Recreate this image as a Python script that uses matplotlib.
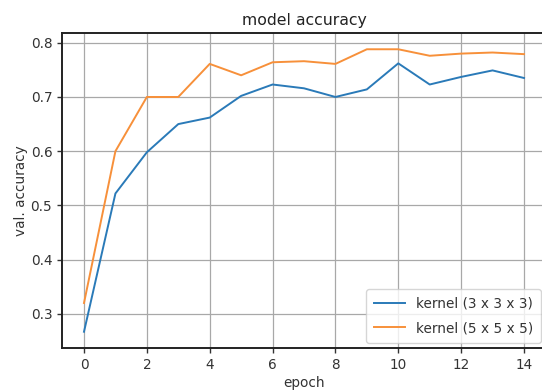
import matplotlib
matplotlib.use("Agg")
import matplotlib.pyplot as plt

epochs = list(range(15))
acc_k3 = [0.267, 0.522, 0.598, 0.650, 0.662, 0.702, 0.723, 0.716, 0.700, 0.714,
          0.762, 0.723, 0.737, 0.749, 0.735]
acc_k5 = [0.320, 0.600, 0.700, 0.700, 0.761, 0.740, 0.764, 0.766, 0.761, 0.788,
          0.788, 0.776, 0.780, 0.782, 0.779]
labels = ["kernel (3 x 3 x 3)", "kernel (5 x 5 x 5)"]
title = "model accuracy"
xlabel = "epoch"
ylabel = "val. accuracy"

fs = 9.8
fig = plt.figure(figsize=(5.42, 3.90), dpi=100)
ax = fig.add_axes([62 / 542, 1 - 348 / 390, (546 - 62) / 542, (348 - 33) / 390])
ax.plot(epochs, acc_k3, color="#2a7ab8", lw=1.4, label=labels[0])
ax.plot(epochs, acc_k5, color="#f7903a", lw=1.4, label=labels[1])
ax.set_xlim(-0.7, 14.7)
ax.set_ylim(0.237, 0.818)
ax.set_xticks(range(0, 15, 2))
ax.set_yticks([0.3, 0.4, 0.5, 0.6, 0.7, 0.8])
ax.grid(True, color="#a8a8a8", lw=0.9)
ax.set_title(title, fontsize=11.3, pad=6, color="#222222")
ax.set_xlabel(xlabel, fontsize=fs, labelpad=3, color="#333333")
ax.set_ylabel(ylabel, fontsize=fs, labelpad=2, color="#333333")
ax.tick_params(labelsize=fs, colors="#333333", width=1.0, length=3.5)
for s in ax.spines.values():
    s.set_linewidth(1.4)
    s.set_color("#222222")
leg = ax.legend(loc="lower right", fontsize=fs, borderaxespad=0.4,
                labelspacing=0.75, borderpad=0.55, handlelength=2.3)
for t in leg.get_texts():
    t.set_color("#333333")
fig.savefig("out.png", dpi=100)
